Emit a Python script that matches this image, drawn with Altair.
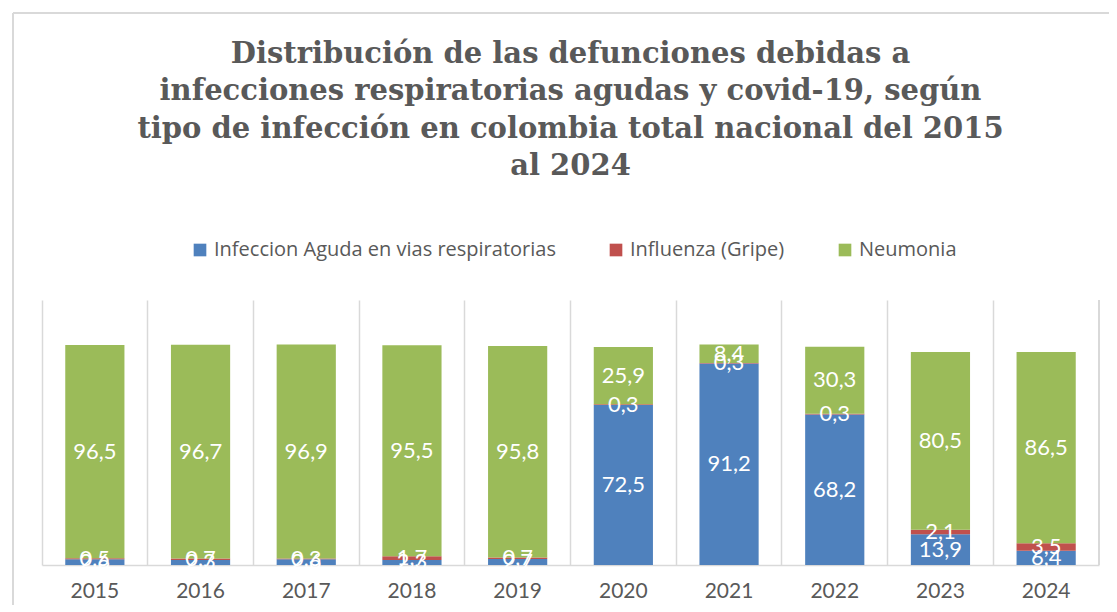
import altair as alt
import pandas as pd

years = ["2015", "2016", "2017", "2018", "2019", "2020", "2021", "2022", "2023", "2024"]
series = ["Infeccion Aguda en vias respiratorias", "Influenza (Gripe)", "Neumonia"]
colors = ["#4F81BD", "#C0504D", "#9BBB59"]
iar = [2.6, 2.3, 2.6, 2.3, 2.7, 72.5, 91.2, 68.2, 13.9, 6.4]
flu = [0.5, 0.7, 0.3, 1.7, 0.7, 0.3, 0.3, 0.3, 2.1, 3.5]
neu = [96.5, 96.7, 96.9, 95.5, 95.8, 25.9, 8.4, 30.3, 80.5, 86.5]

rows = []
for i, y in enumerate(years):
    for k, (s, v) in enumerate(zip(series, [iar[i], flu[i], neu[i]])):
        rows.append({"year": y, "serie": s, "valor": v, "orden": k,
                     "etiqueta": f"{v:.1f}".replace(".", ",")})
df = pd.DataFrame(rows)

W, H = 1057, 265
GRAY = "#595959"

base = alt.Chart(df).transform_stack(
    stack="valor", groupby=["year"], as_=["y0", "y1"], sort=[alt.SortField("orden")]
).transform_calculate(mid="(datum.y0 + datum.y1) / 2")

xenc = alt.X("year:N", sort=years, title=None,
             scale=alt.Scale(paddingInner=0, paddingOuter=0),
             axis=alt.Axis(grid=True, gridColor="#d9d9d9", gridWidth=1.5, bandPosition=0,
                           ticks=False, domainColor="#d9d9d9", domainWidth=1.5,
                           labelFont="Lato", labelFontSize=21, labelColor=GRAY,
                           labelPadding=15, labelAngle=0))
yscale = alt.Scale(domain=[0, 120], nice=False)

bars = base.mark_bar(width=alt.RelativeBandSize(0.56)).encode(
    x=xenc,
    y=alt.Y("y0:Q", scale=yscale, axis=None),
    y2="y1:Q",
    color=alt.Color("serie:N", sort=series, scale=alt.Scale(domain=series, range=colors),
                    legend=alt.Legend(title=None, orient="none", direction="horizontal",
                                      columns=3, legendX=148, legendY=-60,
                                      symbolType="square", symbolSize=160,
                                      symbolStrokeWidth=0,
                                      labelFont="Open Sans", labelFontSize=20,
                                      labelColor=GRAY, columnPadding=50,
                                      labelLimit=600, labelOffset=4)),
)

labels = base.mark_text(color="white", font="Lato", fontSize=22, baseline="middle").encode(
    x=alt.X("year:N", sort=years),
    y=alt.Y("mid:Q", scale=yscale),
    text="etiqueta:N",
)

right_edge = alt.Chart(df).mark_rule(color="#d9d9d9", strokeWidth=1.5).encode(
    x=alt.value(W), y=alt.value(0), y2=alt.value(H))
frame_top = alt.Chart(df).mark_rule(color="#d9d9d9", strokeWidth=1.5).encode(
    x=alt.value(-29), x2=alt.value(W + 20), y=alt.value(-287))
frame_left = alt.Chart(df).mark_rule(color="#d9d9d9", strokeWidth=1.5).encode(
    x=alt.value(-29), y=alt.value(-287), y2=alt.value(H + 50))

chart = alt.layer(frame_top, frame_left, bars, labels, right_edge).properties(
    width=W, height=H,
    title=alt.TitleParams(
        ["Distribución de las defunciones debidas a",
         "infecciones respiratorias agudas y covid-19, según",
         "tipo de infección en colombia total nacional del 2015",
         "al 2024"],
        font="DejaVu Serif", fontSize=29, fontWeight="bold", color=GRAY,
        lineHeight=37.5, anchor="middle", offset=0, dy=169),
    autosize=alt.AutoSizeParams(type="none"),
    padding={"left": 34, "top": 292, "right": 10, "bottom": 40},
).configure_view(stroke=None).resolve_scale(x="shared")

chart.save("out.html", embed_options={"renderer": "svg", "actions": False})
